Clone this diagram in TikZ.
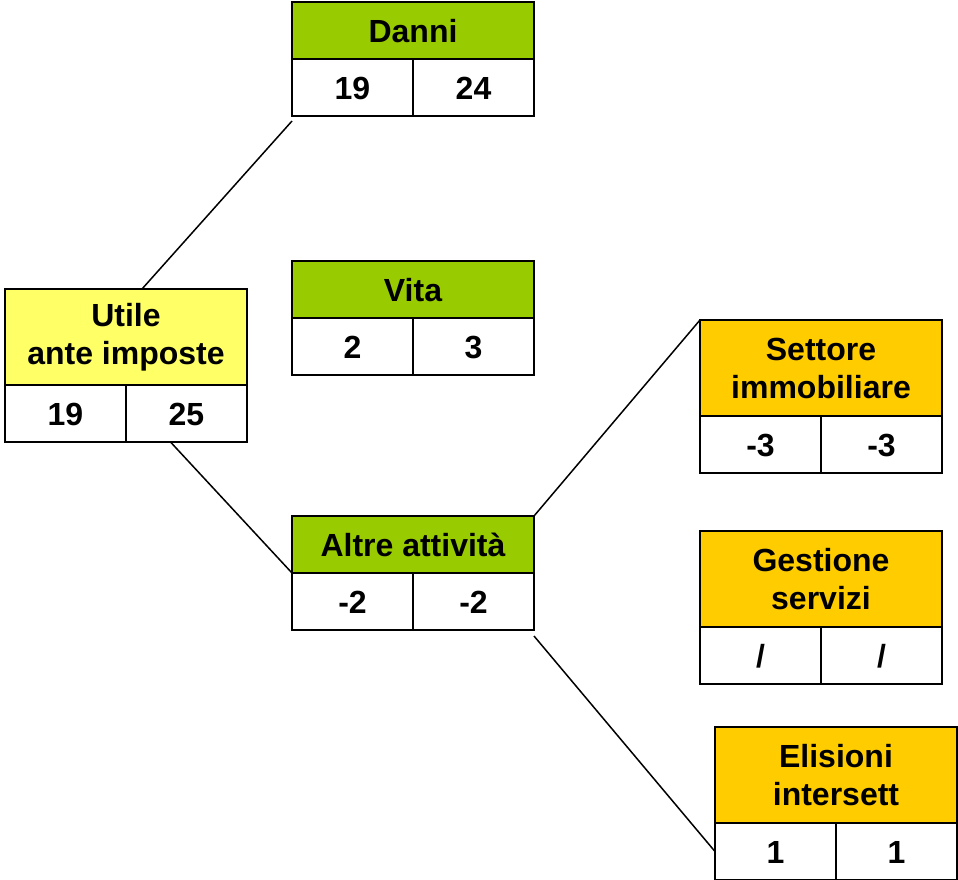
\documentclass[tikz,border=0pt]{standalone}
\usepackage{fontspec}
\setmainfont{Liberation Sans}
\usetikzlibrary{positioning}
\definecolor{leafgreen}{HTML}{99CC00}
\definecolor{paleyellow}{HTML}{FFFF66}
\definecolor{deeporange}{HTML}{FFCC00}
\begin{document}
\begin{tikzpicture}[x = 1pt, y = -1pt, node distance = 0pt,
    box/.style = {draw, line width = 2.5pt, outer sep = 0pt, inner sep = 0pt, align = center,
      font = \fontsize{32}{38}\selectfont\bfseries},
    head/.style = {box, minimum width = 242pt, minimum height = 57pt, text height = 23pt, text depth = 0pt},
    tall/.style = {box, minimum width = 242pt, minimum height = 96pt},
    val/.style = {box, fill = white, minimum width = 121pt, minimum height = 57pt, text height = 23pt, text depth = 0pt},
    link/.style = {line width = 1.5pt}]
    \useasboundingbox (0,0) rectangle (958,879);
    % headers
    \node[head, fill = leafgreen, anchor = north west] (danni) at (292,2) {Danni};
    \node[head, fill = leafgreen, anchor = north west] (vita) at (292,261) {Vita};
    \node[head, fill = leafgreen, anchor = north west] (altre) at (292,516) {Altre attività};
    \node[tall, fill = paleyellow, anchor = north west] (utile) at (5,289) {Utile\\ante imposte};
    \node[tall, fill = deeporange, anchor = north west] (settore) at (700,320) {Settore\\immobiliare};
    \node[tall, fill = deeporange, anchor = north west] (gestione) at (700,531) {Gestione\\servizi};
    \node[tall, fill = deeporange, anchor = north west] (elisioni) at (715,727) {Elisioni\\intersett};
    % values
    \node[val, below right = of danni.south west] (danni1) {19};
    \node[val, right = of danni1] (danni2) {24};
    \node[val, below right = of vita.south west] (vita1) {2};
    \node[val, right = of vita1] (vita2) {3};
    \node[val, below right = of altre.south west] (altre1) {-2};
    \node[val, right = of altre1] (altre2) {-2};
    \node[val, below right = of utile.south west] (utile1) {19};
    \node[val, right = of utile1] (utile2) {25};
    \node[val, below right = of settore.south west] (settore1) {-3};
    \node[val, right = of settore1] (settore2) {-3};
    \node[val, below right = of gestione.south west] (gestione1) {/};
    \node[val, right = of gestione1] (gestione2) {/};
    \node[val, below right = of elisioni.south west] (elisioni1) {1};
    \node[val, right = of elisioni1] (elisioni2) {1};
    % links
    \draw[link] ([xshift = 16pt]utile.north) -- ([yshift = -5pt]danni1.south west);
    \draw[link] ([xshift = -16pt]utile2.south) -- (altre1.north west);
    \draw[link] (altre.north east) -- (settore.north west);
    \draw[link] ([yshift = -6pt]altre2.south east) -- (elisioni1.west);
\end{tikzpicture}
\end{document}
